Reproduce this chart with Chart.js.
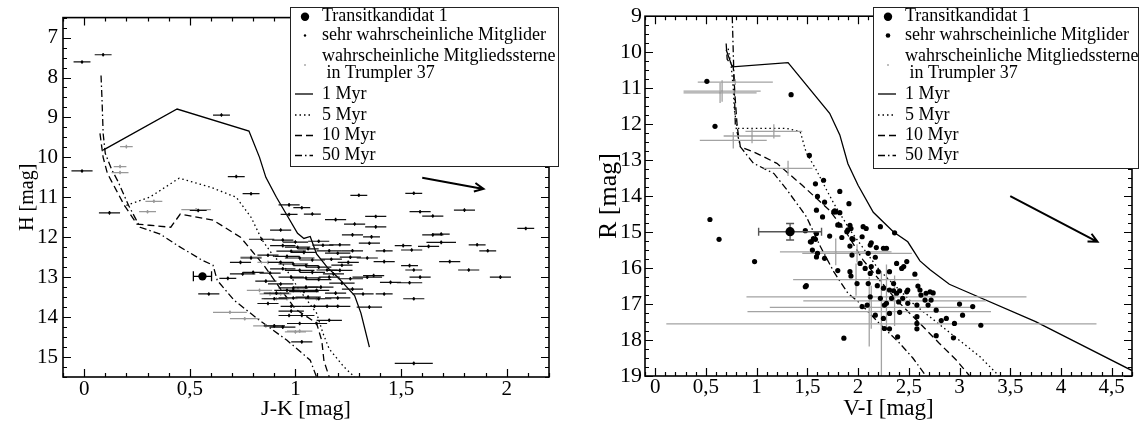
<!DOCTYPE html>
<html>
<head>
<meta charset="utf-8">
<script src="https://cdn.jsdelivr.net/npm/chart.js@4.4.1/dist/chart.umd.min.js"></script>
<style>
  body { margin: 0; background: #fff; width: 1146px; height: 428px; overflow: hidden; position: relative; }
  .panel { position: absolute; top: 0; height: 428px; }
  #panelH { left: 0; width: 566px; }
  #panelR { left: 566px; width: 580px; }
</style>
</head>
<body>
<div class="panel" id="panelH"><canvas id="cmdH" width="566" height="428"></canvas></div>
<div class="panel" id="panelR"><canvas id="cmdR" width="580" height="428"></canvas></div>
<script>
Chart.defaults.font.family = "'Liberation Serif', 'Times New Roman', serif";
Chart.defaults.color = '#000';

// ---------- H vs. J-K ----------
const jkTicks = [0, 0.5, 1, 1.5, 2];
const hTicks = [7, 8, 9, 10, 11, 12, 13, 14, 15];

const transitJK = [0.56];
const transitH = [12.98];
const transitJKErr = [0.043];

// sehr wahrscheinliche Mitglieder (J-K, H, Fehler J-K)
const memJK = [-0.01, 0.09, 0.65, -0.01, 0.72, 0.79, 1.30, 1.56, 0.12, 0.54, 0.97, 0.97, 1.03, 1.08, 1.19, 1.38, 1.38, 1.28, 1.59, 1.65,
  1.80, 2.09, 0.93, 1.27, 1.36, 1.65, 1.69, 0.84, 0.94, 1.11, 1.21, 1.35, 1.51, 1.55, 1.63, 1.69, 1.86, 1.91, 1.42, 1.27,
  1.16, 1.26, 1.34, 1.42, 1.25, 1.73, 1.54, 1.56, 1.82, 1.21, 1.37, 1.45, 1.54, 1.59, 1.97, 1.34, 1.26, 1.32, 1.42, 1.56,
  1.35, 1.20, 0.97, 1.02, 1.03, 1.56, 1.10, 0.74, 0.79, 0.80, 0.75, 0.68, 0.59, 0.90, 0.98, 0.87, 0.99,
  0.94, 1.01, 1.06, 0.98, 1.04, 0.96, 1.02, 1.08, 0.93, 0.99, 1.05, 1.11, 0.94, 1.02, 1.08, 1.15, 0.98, 1.05, 1.11, 1.16,
  0.93, 0.99, 1.05, 1.12, 0.96, 1.04, 1.10, 0.90, 0.99, 1.06, 1.11, 1.20, 1.09, 1.15, 0.98, 1.03, 1.16, 0.94,
  1.00, 1.13, 1.20, 1.17, 1.22, 1.18, 1.22, 1.27, 1.19, 0.88, 0.86, 0.91, 0.87];
const memH = [7.61, 7.43, 8.94, 10.34, 10.48, 10.91, 10.95, 10.90, 11.39, 11.33, 11.19, 11.43, 11.26, 11.42, 11.56, 11.48, 11.74, 11.67, 11.36, 11.47,
  11.32, 11.78, 11.82, 11.94, 11.99, 11.94, 11.92, 12.05, 12.07, 12.10, 12.19, 12.15, 12.21, 12.32, 12.23, 12.13, 12.19, 12.34, 12.34, 12.34,
  12.34, 12.50, 12.52, 12.61, 12.63, 12.61, 12.71, 12.82, 12.82, 12.83, 12.96, 13.13, 13.14, 13.00, 13.00, 13.00, 13.04, 13.42, 13.42, 13.54,
  13.75, 13.73, 13.96, 14.16, 14.62, 15.16, 14.16, 12.63, 12.52, 12.88, 12.92, 13.03, 13.42, 14.22, 13.73, 13.66, 13.33,
  12.21, 12.25, 12.29, 12.35, 12.38, 12.48, 12.52, 12.57, 12.63, 12.67, 12.71, 12.75, 12.79, 12.83, 12.88, 12.82, 13.00, 13.02, 13.06, 13.00,
  13.17, 13.27, 13.25, 13.25, 13.33, 13.36, 13.33, 13.54, 13.52, 13.50, 13.54, 13.52, 13.73, 13.73, 13.85, 13.96, 14.08, 14.25,
  12.12, 12.20, 12.40, 12.55, 12.70, 12.92, 13.15, 13.30, 13.40, 12.90, 13.10, 13.40, 12.45];
const memJKErr = [0.04, 0.04, 0.04, 0.05, 0.04, 0.04, 0.04, 0.04, 0.05, 0.04, 0.05, 0.04, 0.04, 0.04, 0.05, 0.05, 0.05, 0.05, 0.05, 0.05,
  0.05, 0.04, 0.05, 0.05, 0.04, 0.05, 0.04, 0.06, 0.05, 0.05, 0.05, 0.05, 0.04, 0.05, 0.05, 0.07, 0.04, 0.04, 0.04, 0.05,
  0.06, 0.05, 0.05, 0.05, 0.05, 0.05, 0.04, 0.04, 0.05, 0.06, 0.05, 0.05, 0.06, 0.05, 0.05, 0.07, 0.06, 0.05, 0.04, 0.05,
  0.06, 0.06, 0.05, 0.06, 0.05, 0.09, 0.05, 0.05, 0.05, 0.05, 0.06, 0.04, 0.05, 0.05, 0.05, 0.05, 0.05,
  0.06, 0.06, 0.05, 0.07, 0.06, 0.06, 0.07, 0.06, 0.06, 0.07, 0.06, 0.06, 0.06, 0.07, 0.06, 0.05, 0.06, 0.07, 0.06, 0.05,
  0.06, 0.07, 0.06, 0.06, 0.06, 0.07, 0.06, 0.06, 0.07, 0.06, 0.06, 0.06, 0.06, 0.06, 0.06, 0.06, 0.06, 0.06,
  0.06, 0.05, 0.06, 0.05, 0.05, 0.05, 0.06, 0.05, 0.05, 0.05, 0.05, 0.06, 0.05];

// wahrscheinliche Mitgliedssterne
const probJK = [0.20, 0.17, 0.17, 0.33, 0.30, 0.53, 0.87, 0.79, 0.83, 0.88, 0.91, 0.96, 1.10, 0.69, 0.76, 0.86, 0.90, 1.02, 1.00, 0.93];
const probH = [9.73, 10.23, 10.38, 11.10, 11.36, 11.31, 12.63, 12.50, 13.33, 13.42, 13.54, 13.54, 13.54, 13.88, 14.04, 14.22, 14.22, 14.35, 14.37, 13.42];
const probJKErr = [0.03, 0.03, 0.04, 0.04, 0.04, 0.07, 0.05, 0.05, 0.06, 0.05, 0.06, 0.05, 0.04, 0.08, 0.07, 0.06, 0.05, 0.06, 0.05, 0.05];

// Isochronen
const iso1JK = [0.09, 0.44, 0.78, 0.83, 0.86, 0.91, 0.96, 1.01, 1.04, 1.07, 1.10, 1.15, 1.20, 1.28, 1.31, 1.35];
const iso1H = [9.82, 8.79, 9.34, 10.0, 10.5, 11.0, 11.45, 11.9, 12.03, 11.98, 12.42, 12.75, 13.0, 13.46, 13.9, 14.75];
const iso5JK = [0.20, 0.31, 0.45, 0.60, 0.72, 0.79, 0.84, 0.90, 0.94, 1.02, 1.10, 1.13, 1.16, 1.23, 1.28];
const iso5H = [11.2, 11.0, 10.52, 10.75, 11.0, 11.5, 12.05, 12.5, 12.67, 13.33, 13.9, 14.4, 14.8, 15.25, 15.5];
const iso10JK = [0.075, 0.09, 0.11, 0.13, 0.19, 0.25, 0.31, 0.41, 0.455, 0.61, 0.74, 0.85, 0.93, 1.0, 1.1, 1.125, 1.135, 1.16];
const iso10H = [9.4, 10.0, 10.4, 10.6, 11.2, 11.67, 11.7, 11.75, 11.42, 11.57, 12.0, 12.7, 13.3, 13.8, 14.15, 14.6, 15.1, 15.5];
const iso50JK = [0.08, 0.085, 0.09, 0.10, 0.13, 0.16, 0.21, 0.265, 0.36, 0.44, 0.56, 0.61, 0.63, 0.71, 0.83, 0.96, 1.07, 1.10];
const iso50H = [7.95, 8.6, 9.4, 9.9, 10.3, 10.6, 11.2, 11.75, 11.92, 12.2, 12.58, 12.7, 13.08, 13.58, 14.08, 14.58, 15.08, 15.5];

// Rötungsvektor: Start (J-K, H), Ende (J-K, H)
const reddenJKH = [1.60, 10.51, 1.89, 10.79];

// ---------- R vs. V-I ----------
const viTicks = [0, 0.5, 1, 1.5, 2, 2.5, 3, 3.5, 4, 4.5];
const rTicks = [9, 10, 11, 12, 13, 14, 15, 16, 17, 18, 19];

const transitVI = [1.33];
const transitR = [14.99];
const transitVIErr = [0.31];
const transitRErr = [0.23];

const memVI = [0.51, 1.34, 0.59, 1.52, 1.58, 1.66, 1.60, 1.82, 1.67, 1.59, 1.91, 1.77, 1.82, 1.65, 1.82, 1.92, 2.08, 2.22, 2.36, 1.72,
  1.84, 1.90, 1.95, 2.04, 1.56, 1.54, 1.48, 1.59, 1.92, 1.94, 2.12, 2.13, 2.18, 2.25, 2.28, 1.59, 1.60, 1.67, 2.10, 2.17,
  2.02, 2.07, 2.13, 2.12, 2.20, 2.31, 2.38, 2.45, 2.48, 2.43, 2.56, 1.80, 1.92, 1.93, 1.49, 1.99, 2.10, 2.19, 2.25, 2.35,
  2.35, 2.41, 2.48, 2.59, 2.49, 2.61, 2.67, 2.74, 2.71, 2.62, 2.22, 2.12, 2.28, 2.40, 2.49, 2.58, 2.66, 2.72, 2.69, 2.77,
  3.00, 3.13, 3.03, 2.17, 2.31, 2.41, 2.58, 2.87, 2.82, 2.95, 3.21, 2.58, 2.58, 2.77, 2.94, 2.39, 2.31, 2.26, 1.86, 2.04,
  2.09, 2.26, 2.25, 2.31, 2.38, 2.44, 2.33, 0.54, 0.63, 0.98, 1.48, 1.58, 1.55, 1.76, 1.80, 1.89, 1.78, 1.93, 2.05, 1.94, 1.53];
const memR = [10.81, 11.18, 12.06, 12.87, 13.66, 13.56, 14.01, 13.87, 14.17, 14.39, 14.21, 14.41, 14.46, 14.58, 14.81, 14.81, 14.90, 14.85, 15.02, 15.11,
  15.15, 14.94, 15.20, 15.13, 15.18, 15.27, 14.96, 15.04, 15.39, 15.64, 15.36, 15.30, 15.43, 15.45, 15.45, 15.69, 15.59, 15.73, 15.59, 15.70,
  15.87, 16.01, 15.96, 16.15, 16.10, 16.10, 15.87, 15.96, 15.82, 16.01, 16.17, 16.07, 16.10, 16.22, 16.49, 16.43, 16.43, 16.49, 16.56, 16.43,
  16.63, 16.63, 16.66, 16.50, 16.61, 16.61, 16.70, 16.69, 16.66, 16.75, 16.84, 16.80, 16.98, 16.94, 16.98, 17.03, 16.89, 16.89, 17.03, 17.17,
  17.00, 17.07, 17.31, 17.31, 17.26, 17.23, 17.35, 17.40, 17.46, 17.54, 17.59, 17.54, 17.69, 17.88, 17.94, 17.91, 17.69, 17.68, 17.95, 17.07,
  17.03, 17.03, 17.40, 16.61, 16.70, 16.84, 16.84, 14.65, 15.20, 15.82, 16.52, 15.20, 15.50, 14.44, 14.80, 14.99, 14.44, 14.90, 14.85, 15.18, 15.27];

const probVI = [0.79, 0.66, 0.64, 0.77, 0.955, 1.17, 1.31, 1.78, 1.99, 1.98, 2.28, 2.36, 2.13, 2.11, 2.23];
const probR = [10.83, 11.08, 11.13, 12.45, 12.33, 12.20, 13.23, 15.55, 15.59, 16.32, 16.80, 16.91, 17.09, 17.21, 17.55];
const probVIErr = [0.37, 0.38, 0.36, 0.33, 0.28, 0.28, 0.24, 0.55, 0.54, 0.62, 1.38, 0.90, 1.00, 1.20, 2.12];
const probRErr = [0.08, 0.30, 0.28, 0.23, 0.20, 0.20, 0.21, 0.37, 0.25, 0.45, 0.90, 0.70, 0.60, 0.97, 1.47];

const iso1VI = [0.70, 0.76, 1.31, 1.72, 1.82, 1.90, 2.00, 2.15, 2.35, 2.49, 2.61, 2.71, 2.90, 3.03, 3.75, 4.70];
const iso1R = [9.93, 10.41, 10.29, 11.7, 12.3, 13.1, 13.7, 14.45, 15.0, 15.27, 15.8, 16.05, 16.45, 16.61, 17.49, 18.85];
const iso5VI = [0.72, 0.75, 0.77, 0.78, 0.81, 1.30, 1.43, 1.49, 1.59, 1.69, 1.76, 1.92, 2.21, 2.54, 2.87, 3.20, 3.39];
const iso5R = [9.9, 10.4, 11.0, 11.6, 12.12, 12.12, 12.21, 12.8, 13.28, 13.83, 14.2, 14.94, 16.06, 16.98, 17.72, 18.46, 19.0];
const iso10VI = [0.70, 0.71, 0.77, 0.79, 0.81, 0.84, 0.97, 1.20, 1.45, 1.72, 1.89, 2.05, 2.21, 2.38, 2.61, 2.80, 2.97, 3.10];
const iso10R = [9.76, 10.2, 10.41, 11.33, 12.1, 12.63, 12.77, 13.09, 13.7, 14.4, 15.04, 15.78, 16.33, 16.89, 17.54, 18.09, 18.56, 19.0];
const iso50VI = [0.76, 0.77, 0.78, 0.79, 0.84, 0.97, 1.17, 1.30, 1.49, 1.63, 1.76, 1.90, 2.02, 2.21, 2.41, 2.54, 2.67];
const iso50R = [9.0, 10.0, 11.0, 12.0, 12.63, 13.09, 13.37, 13.83, 14.57, 15.41, 16.1, 16.7, 16.98, 17.54, 18.09, 18.5, 19.0];

const reddenVIR = [3.50, 14.0, 4.36, 15.27];

// ---------- helpers ----------
const pts = (xs, ys) => xs.map((x, i) => ({ x, y: ys[i] }));
const comma = v => String(v).replace('.', ',');

const iso = (label, xs, ys, dash) => ({
  label, data: pts(xs, ys), showLine: true, pointRadius: 0,
  borderColor: '#000', borderWidth: 1.3, borderDash: dash, fill: false, order: 5
});

// Fehlerbalken aus den xErr/yErr-Feldern eines Datensatzes
const errorBars = {
  id: 'errorBars',
  beforeDatasetDraw(chart, args) {
    const ds = chart.data.datasets[args.index];
    if (!ds.xErr && !ds.yErr && !ds.tick) return;
    const { ctx, chartArea: a, scales: { x, y } } = chart;
    ctx.save();
    ctx.beginPath();
    ctx.rect(a.left, a.top, a.width, a.height);
    ctx.clip();
    ctx.strokeStyle = ds.errColor;
    ctx.lineWidth = ds.errWidth || 1;
    ds.data.forEach((p, i) => {
      const px = x.getPixelForValue(p.x), py = y.getPixelForValue(p.y);
      ctx.beginPath();
      if (ds.xErr) {
        const x0 = x.getPixelForValue(p.x - ds.xErr[i]), x1 = x.getPixelForValue(p.x + ds.xErr[i]);
        ctx.moveTo(x0, py); ctx.lineTo(x1, py);
        if (ds.cap) {
          ctx.moveTo(x0, py - ds.cap); ctx.lineTo(x0, py + ds.cap);
          ctx.moveTo(x1, py - ds.cap); ctx.lineTo(x1, py + ds.cap);
        }
      }
      if (ds.yErr) {
        const y0 = y.getPixelForValue(p.y - ds.yErr[i]), y1 = y.getPixelForValue(p.y + ds.yErr[i]);
        ctx.moveTo(px, y0); ctx.lineTo(px, y1);
        if (ds.cap) {
          ctx.moveTo(px - ds.cap, y0); ctx.lineTo(px + ds.cap, y0);
          ctx.moveTo(px - ds.cap, y1); ctx.lineTo(px + ds.cap, y1);
        }
      } else if (ds.tick) {
        ctx.moveTo(px, py - ds.tick); ctx.lineTo(px, py + ds.tick);
      }
      ctx.stroke();
    });
    ctx.restore();
  }
};

// Rahmen mit nach innen zeigenden Haupt- und Nebenstrichen auf allen vier Seiten
const frame = {
  id: 'frame',
  afterDraw(chart, args, o) {
    const { ctx, chartArea: a, scales: { x, y } } = chart;
    ctx.save();
    ctx.strokeStyle = '#000';
    ctx.lineWidth = 1.2;
    ctx.beginPath();
    const isMajor = (v, step) => Math.abs(v / step - Math.round(v / step)) < 1e-6;
    const nx = Math.round((x.max - x.min) / o.xMinor);
    for (let i = 0; i <= nx; i++) {
      const v = x.min + i * o.xMinor;
      const len = isMajor(v, o.xMajor) ? o.major : o.minor;
      const px = Math.round(x.getPixelForValue(v)) + 0.5;
      ctx.moveTo(px, a.bottom); ctx.lineTo(px, a.bottom - len);
      ctx.moveTo(px, a.top); ctx.lineTo(px, a.top + len);
    }
    const ny = Math.round((y.max - y.min) / o.yMinor);
    for (let i = 0; i <= ny; i++) {
      const v = y.min + i * o.yMinor;
      const len = isMajor(v, o.yMajor) ? o.major : o.minor;
      const py = Math.round(y.getPixelForValue(v)) + 0.5;
      ctx.moveTo(a.left, py); ctx.lineTo(a.left + len, py);
      ctx.moveTo(a.right, py); ctx.lineTo(a.right - len, py);
    }
    ctx.stroke();
    ctx.lineWidth = 1.6;
    ctx.strokeRect(a.left, a.top, a.width, a.height);
    ctx.restore();
  }
};

// Rötungspfeil in Datenkoordinaten
const arrow = {
  id: 'arrow',
  afterDatasetsDraw(chart, args, o) {
    const { ctx, scales: { x, y } } = chart;
    const [a0, b0, a1, b1] = o.from;
    const x0 = x.getPixelForValue(a0), y0 = y.getPixelForValue(b0);
    const x1 = x.getPixelForValue(a1), y1 = y.getPixelForValue(b1);
    const ang = Math.atan2(y1 - y0, x1 - x0), h = 10, w = 0.45;
    ctx.save();
    ctx.strokeStyle = '#000';
    ctx.lineWidth = 2;
    ctx.beginPath();
    ctx.moveTo(x0, y0); ctx.lineTo(x1, y1);
    ctx.moveTo(x1 - h * Math.cos(ang - w), y1 - h * Math.sin(ang - w));
    ctx.lineTo(x1, y1);
    ctx.lineTo(x1 - h * Math.cos(ang + w), y1 - h * Math.sin(ang + w));
    ctx.stroke();
    ctx.restore();
  }
};

// Legende im Kasten oben rechts
const boxLegend = {
  id: 'boxLegend',
  afterDraw(chart, args, o) {
    const { ctx } = chart;
    const [L, T, W, H] = o.box;
    ctx.save();
    ctx.fillStyle = '#fff';
    ctx.fillRect(L, T, W, H);
    ctx.strokeStyle = '#222';
    ctx.lineWidth = 1;
    ctx.strokeRect(L + 0.5, T + 0.5, W, H);
    ctx.font = "18px 'Liberation Serif', serif";
    ctx.textBaseline = 'middle';
    ctx.textAlign = 'left';
    const rows = [9.7, 28.5, 49.5, 87, 108, 128.5, 148.5];
    o.items.forEach((it, i) => {
      const ty = T + rows[i];
      const my = ty + (it.text.length - 1) * 8.5;
      if (it.dot) {
        ctx.fillStyle = it.color;
        ctx.beginPath();
        ctx.arc(L + 15, my, it.dot, 0, Math.PI * 2);
        ctx.fill();
      } else {
        ctx.strokeStyle = '#000';
        ctx.lineWidth = 1.3;
        ctx.setLineDash(it.dash);
        ctx.beginPath();
        ctx.moveTo(L + 5, my); ctx.lineTo(L + 23, my);
        ctx.stroke();
        ctx.setLineDash([]);
      }
      ctx.fillStyle = '#000';
      it.text.forEach((t, k) => ctx.fillText(t, L + 32, ty + k * 17));
    });
    ctx.restore();
  }
};

const legendItems = dotSize => [
  { text: ['Transitkandidat 1'], dot: 4.2, color: '#000' },
  { text: ['sehr wahrscheinliche Mitglider'], dot: dotSize, color: '#000' },
  { text: ['wahrscheinliche Mitgliedssterne', ' in Trumpler 37'], dot: 1, color: '#aaa' },
  { text: ['1 Myr'], dash: [] },
  { text: ['5 Myr'], dash: [1.5, 3] },
  { text: ['10 Myr'], dash: [7, 4] },
  { text: ['50 Myr'], dash: [7, 3, 1.5, 3] }
];

const axis = (min, max, ticks, reverse, title, size, titleSize, pad, labelPad, fit) => ({
  type: 'linear', min, max, reverse,
  grid: { display: false, drawTicks: false },
  border: { display: false },
  afterBuildTicks: s => { s.ticks = ticks.map(v => ({ value: v })); },
  afterFit: fit,
  ticks: { autoSkip: false, maxRotation: 0, padding: labelPad, font: { size }, color: '#000', callback: v => comma(v) },
  title: { display: true, text: title, font: { size: titleSize }, color: '#000', padding: pad }
});

// ---------- linkes Diagramm ----------
new Chart(document.getElementById('cmdH'), {
  type: 'scatter',
  data: {
    datasets: [
      { label: 'Transitkandidat 1', data: pts(transitJK, transitH), xErr: transitJKErr, cap: 5,
        errColor: '#000', errWidth: 1.3, pointRadius: 4.2, backgroundColor: '#000', borderWidth: 0, order: 1 },
      { label: 'sehr wahrscheinliche Mitglider', data: pts(memJK, memH), xErr: memJKErr, tick: 1.8,
        errColor: '#111', errWidth: 1.2, pointRadius: 1.3, backgroundColor: '#000', borderWidth: 0, order: 2 },
      { label: 'wahrscheinliche Mitgliedssterne in Trumpler 37', data: pts(probJK, probH), xErr: probJKErr, tick: 1.8,
        errColor: '#999', errWidth: 1.2, pointRadius: 1.2, backgroundColor: '#999', borderWidth: 0, order: 3 },
      iso('1 Myr', iso1JK, iso1H, []),
      iso('5 Myr', iso5JK, iso5H, [1.5, 3]),
      iso('10 Myr', iso10JK, iso10H, [7, 4]),
      iso('50 Myr', iso50JK, iso50H, [7, 3, 1.5, 3])
    ]
  },
  options: {
    responsive: false,
    animation: false,
    events: [],
    layout: { padding: { top: 16, right: 17, left: 0, bottom: 0 } },
    scales: {
      x: axis(-0.1, 2.2, jkTicks, false, 'J-K [mag]', 21, 22, { top: 0, bottom: 6 }, 0, s => { s.height = 51; }),
      y: axis(6.5, 15.5, hTicks, true, 'H [mag]', 21, 20, { top: 16, bottom: 0 }, 5, s => { s.width = 63; })
    },
    plugins: {
      legend: { display: false },
      tooltip: { enabled: false },
      frame: { xMinor: 0.1, xMajor: 0.5, yMinor: 0.25, yMajor: 1, major: 8, minor: 4 },
      arrow: { from: reddenJKH },
      boxLegend: { box: [290, 7, 268, 159], items: legendItems(1.2) }
    }
  },
  plugins: [errorBars, arrow, frame, boxLegend]
});

// ---------- rechtes Diagramm ----------
new Chart(document.getElementById('cmdR'), {
  type: 'scatter',
  data: {
    datasets: [
      { label: 'Transitkandidat 1', data: pts(transitVI, transitR), xErr: transitVIErr, yErr: transitRErr, cap: 4,
        errColor: '#555', errWidth: 1.4, pointRadius: 4.6, backgroundColor: '#000', borderWidth: 0, order: 1 },
      { label: 'sehr wahrscheinliche Mitglider', data: pts(memVI, memR),
        pointRadius: 2.6, backgroundColor: '#000', borderWidth: 0, order: 2 },
      { label: 'wahrscheinliche Mitgliedssterne in Trumpler 37', data: pts(probVI, probR), xErr: probVIErr, yErr: probRErr,
        errColor: '#a3a3a3', errWidth: 1.3, pointRadius: 1, backgroundColor: '#a3a3a3', borderWidth: 0, order: 3 },
      iso('1 Myr', iso1VI, iso1R, []),
      iso('5 Myr', iso5VI, iso5R, [1.5, 3]),
      iso('10 Myr', iso10VI, iso10R, [7, 4]),
      iso('50 Myr', iso50VI, iso50R, [7, 3, 1.5, 3])
    ]
  },
  options: {
    responsive: false,
    animation: false,
    events: [],
    layout: { padding: { top: 16, right: 14, left: 0, bottom: 0 } },
    scales: {
      x: axis(-0.1, 4.7, viTicks, false, 'V-I [mag]', 21, 23, { top: 0, bottom: 5 }, -1, s => { s.height = 52; }),
      y: axis(9, 19, rTicks, true, 'R [mag]', 22, 26, { top: 28, bottom: 0 }, 3, s => { s.width = 79; })
    },
    plugins: {
      legend: { display: false },
      tooltip: { enabled: false },
      frame: { xMinor: 0.1, xMajor: 0.5, yMinor: 0.25, yMajor: 1, major: 8, minor: 4 },
      arrow: { from: reddenVIR },
      boxLegend: { box: [307, 7, 265, 161], items: legendItems(2.3) }
    }
  },
  plugins: [errorBars, arrow, frame, boxLegend]
});
</script>
</body>
</html>
